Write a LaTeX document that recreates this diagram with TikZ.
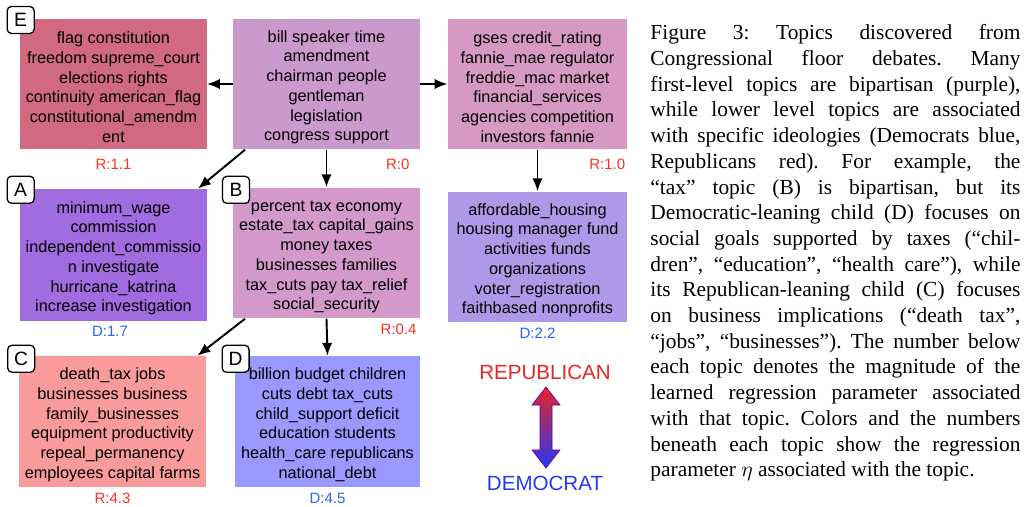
\documentclass[tikz,border=0pt]{standalone}
\usepackage{fontspec}
\setmainfont{Liberation Serif}
\newfontfamily\boxfont{Liberation Sans}
\usetikzlibrary{arrows.meta}

\definecolor{flagred}{RGB}{209,106,128}
\definecolor{rootpurple}{RGB}{204,153,204}
\definecolor{gsespink}{RGB}{214,153,196}
\definecolor{wagepurple}{RGB}{160,108,224}
\definecolor{taxpink}{RGB}{211,153,203}
\definecolor{fundlilac}{RGB}{176,152,232}
\definecolor{jobsred}{RGB}{250,155,155}
\definecolor{debtblue}{RGB}{153,153,255}
\definecolor{rval}{RGB}{255,48,32}
\definecolor{dval}{RGB}{40,100,240}
\definecolor{repred}{RGB}{232,36,38}
\definecolor{demblue}{RGB}{36,56,246}

\newcommand{\toprow}{\rule{0pt}{8.6pt}}

\begin{document}
\begin{tikzpicture}[x=0.467pt, y=-0.467pt,
	topic/.style={inner sep=0pt, minimum width=86.9pt, minimum height=61pt, align=center,
		font=\boxfont\fontsize{7.6}{9.2}\selectfont},
	tag/.style={draw, fill=white, rounded corners=2pt, line width=0.6pt, minimum size=12.6pt,
		inner sep=0pt, font=\boxfont\fontsize{9}{10}\selectfont},
	val/.style={inner sep=0pt, font=\boxfont\fontsize{7}{8}\selectfont},
	link/.style={line width=0.9pt, -{Latex[length=6pt,width=4.8pt]}}]

	\useasboundingbox (0,0) rectangle (1025,507);

	% first level
	\node[topic, fill=rootpurple] (root) at (326.5,84) {\toprow bill speaker time\\amendment\\chairman people\\gentleman\\legislation\\congress support};
	\node[topic, fill=flagred] (E) at (113.5,84) {\toprow flag constitution\\freedom supreme\_court\\elections rights\\continuity american\_flag\\constitutional\_amendm\\ent};
	\node[topic, fill=gsespink, minimum width=83.6pt] (gses) at (537.5,84) {\toprow gses credit\_rating\\fannie\_mae regulator\\freddie\_mac market\\financial\_services\\agencies competition\\investors fannie};

	% second level
	\node[topic, fill=wagepurple, minimum height=61.6pt] (A) at (113.5,255) {\toprow minimum\_wage\\commission\\independent\_commissio\\n investigate\\hurricane\_katrina\\increase investigation};
	\node[topic, fill=taxpink] (B) at (326.5,253) {\toprow percent tax economy\\estate\_tax capital\_gains\\money taxes\\businesses families\\tax\_cuts pay tax\_relief\\social\_security};
	\node[topic, fill=fundlilac, minimum width=83.6pt] (housing) at (537.5,257) {\toprow affordable\_housing\\housing manager fund\\activities funds\\organizations\\voter\_registration\\faithbased nonprofits};

	% third level
	\node[topic, fill=jobsred, minimum width=87.3pt] (C) at (112.5,421.5) {\toprow death\_tax jobs\\businesses business\\family\_businesses\\equipment productivity\\repeal\_permanency\\employees capital farms};
	\node[topic, fill=debtblue, minimum width=86.4pt] (D) at (327.5,421.5) {\toprow billion budget children\\cuts debt tax\_cuts\\child\_support deficit\\education students\\health\_care republicans\\national\_debt};

	% letters
	\node[tag] at ([shift={(0.3pt,-0.8pt)}]E.north west) {E};
	\node[tag] at ([shift={(0.3pt,-0.5pt)}]A.north west) {A};
	\node[tag] at ([shift={(1.4pt,-1.2pt)}]B.north west) {B};
	\node[tag] at ([shift={(1.2pt,-1.4pt)}]C.north west) {C};
	\node[tag] at ([shift={(0.5pt,-1.4pt)}]D.north west) {D};

	% regression values
	\node[val, text=rval, anchor=north] at ([yshift=-4pt]E.south) {R:1.1};
	\node[val, text=rval, anchor=north east] at ([shift={(-4.7pt,-4pt)}]root.south east) {R:0};
	\node[val, text=rval, anchor=north east] at ([shift={(-0.9pt,-4pt)}]gses.south east) {R:1.0};
	\node[val, text=dval, anchor=north] at ([shift={(-1.6pt,-1.9pt)}]A.south) {D:1.7};
	\node[val, text=rval, anchor=north east] at ([shift={(-1.4pt,-2.2pt)}]B.south east) {R:0.4};
	\node[val, text=dval, anchor=north] at ([yshift=-2.2pt]housing.south) {D:2.2};
	\node[val, text=rval, anchor=north] at ([yshift=-2.6pt]C.south) {R:4.3};
	\node[val, text=dval, anchor=north] at ([yshift=-2.6pt]D.south) {D:4.5};

	% tree
	\draw[link] (root.west) -- (E.east);
	\draw[link] (root.east) -- (gses.west);
	\draw[link] ([xshift=5.6pt]root.south west) -- ([xshift=-4.2pt]A.north east);
	\draw[link] (root.south) -- (B.north);
	\draw[link] (gses.south) -- (housing.north);
	\draw[link] ([xshift=5.6pt]B.south west) -- ([xshift=-4.2pt]C.north east);
	\draw[link] (B.south) -- (D.north);

	% legend
	\node[font=\boxfont\fontsize{9.6}{11}\selectfont, text=repred] (rep) at (545,372) {REPUBLICAN};
	\node[font=\boxfont\fontsize{9.6}{11}\selectfont, text=demblue] (dem) at (545,483) {DEMOCRAT};
	\shade[top color=repred, bottom color=demblue, draw=violet!70!blue, line width=0.3pt]
		(546,387) -- (560,405) -- (552,405) -- (552,450) -- (560,450) -- (546,468)
		-- (532,450) -- (540,450) -- (540,405) -- (532,405) -- cycle;

	% caption
	\node[anchor=north west, inner sep=0pt, text width=172.8pt, align=justify,
		font=\fontsize{10}{12}\selectfont\frenchspacing] (caption) at (650,24.4)
		{Figure 3: Topics discovered from\linebreak
		Congressional floor debates. Many\linebreak
		first-level topics are bipartisan (purple),\linebreak
		while lower level topics are associated\linebreak
		with specific ideologies (Democrats blue,\linebreak
		Republicans red). For example, the\linebreak
		“tax” topic (B) is bipartisan, but its\linebreak
		Democratic-leaning child (D) focuses on\linebreak
		social goals supported by taxes (“chil-\linebreak
		dren”, “education”, “health care”), while\linebreak
		its Republican-leaning child (C) focuses\linebreak
		on business implications (“death tax”,\linebreak
		“jobs”, “businesses”). The number below\linebreak
		each topic denotes the magnitude of the\linebreak
		learned regression parameter associated\linebreak
		with that topic. Colors and the numbers\linebreak
		beneath each topic show the regression\linebreak
		parameter $\eta$ associated with the topic.};

\end{tikzpicture}
\end{document}
